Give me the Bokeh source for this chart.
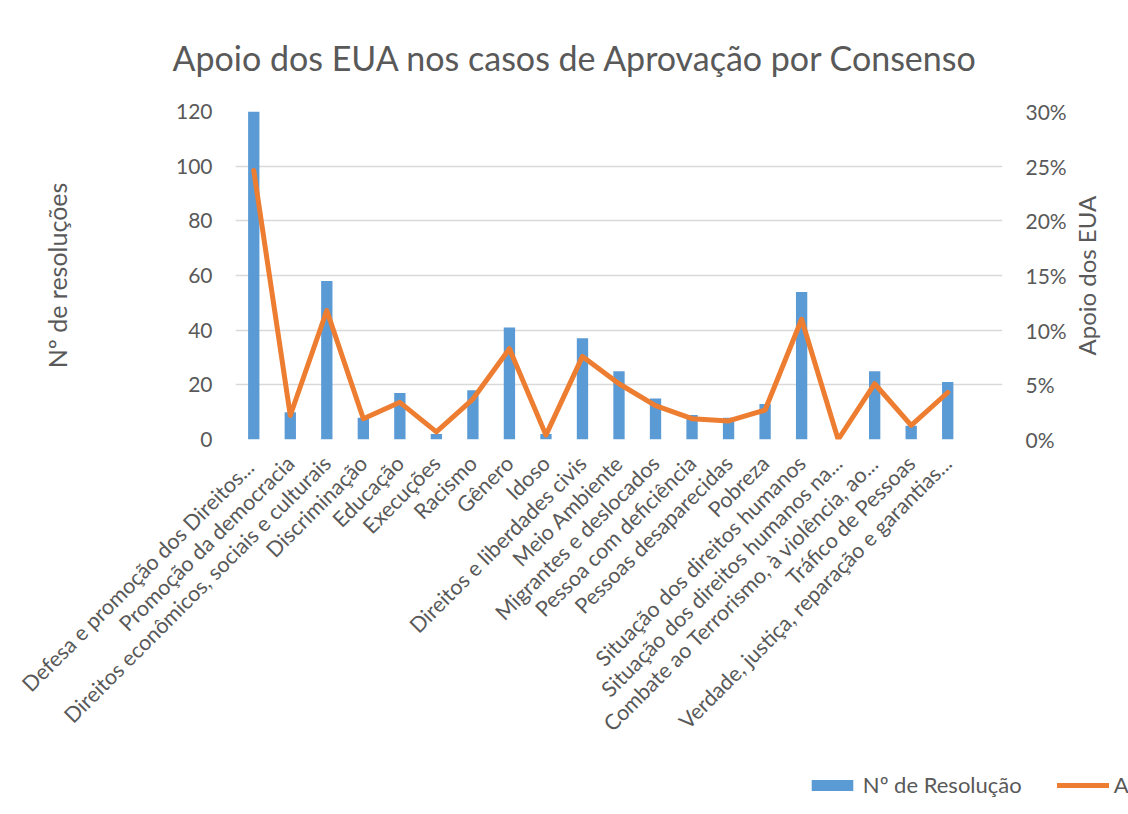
import math
from bokeh.plotting import figure
from bokeh.models import (FactorRange, Range1d, LinearAxis, FixedTicker,
                          NumeralTickFormatter, Legend, LegendItem)
from bokeh.embed import file_html
from bokeh.resources import INLINE

categories = [
    "Defesa  e promoção dos Direitos...",
    "Promoção da democracia",
    "Direitos econômicos, sociais e culturais",
    "Discriminação",
    "Educação",
    "Execuções",
    "Racismo",
    "Gênero",
    "Idoso",
    "Direitos e liberdades civis",
    "Meio Ambiente",
    "Migrantes e deslocados",
    "Pessoa com deficiência",
    "Pessoas desaparecidas",
    "Pobreza",
    "Situação dos direitos humanos",
    "Situação dos direitos humanos na...",
    "Combate ao Terrorismo, à violência, ao...",
    "Tráfico de Pessoas",
    "Verdade, justiça, reparação e garantias...",
]
resolucoes = [120, 10, 58, 8, 17, 2, 18, 41, 2, 37, 25, 15, 9, 8, 13, 54, 0, 25, 5, 21]
apoio = [0.246, 0.022, 0.118, 0.019, 0.034, 0.007, 0.037, 0.083, 0.004, 0.076,
         0.051, 0.031, 0.019, 0.017, 0.027, 0.110, 0.0, 0.051, 0.013, 0.043]
left_ticks = [0, 20, 40, 60, 80, 100, 120]
right_ticks = [0, 0.05, 0.10, 0.15, 0.20, 0.25, 0.30]

FONT = "Lato"
GRAY = "#595959"
BLUE = "#5b9bd5"
ORANGE = "#ed7d31"

p = figure(
    x_range=FactorRange(*(categories + [" "]), range_padding=0),
    y_range=Range1d(0, 120),
    frame_width=767, frame_height=328,
    min_border_left=235, min_border_right=110,
    min_border_top=110, min_border_bottom=362,
    output_backend="svg", toolbar_location=None,
    title="Apoio dos EUA nos casos de Aprovação por Consenso",
)
p.extra_y_ranges = {"pct": Range1d(0, 0.30)}

bars = p.vbar(x=categories, top=resolucoes, width=0.31, color=BLUE, line_color=None)
line = p.line(x=categories, y=apoio, y_range_name="pct", line_width=5,
              color=ORANGE, line_join="round", line_cap="round")

p.title.text_font = FONT
p.title.text_font_size = "34px"
p.title.text_font_style = "normal"
p.title.text_color = GRAY
p.title.align = "left"
p.title.offset = -63
p.title.standoff = 68

p.outline_line_color = None
p.background_fill_color = "white"
p.border_fill_color = "white"

p.xgrid.grid_line_color = None
p.ygrid.ticker = FixedTicker(ticks=left_ticks)
p.ygrid.grid_line_color = "#d9d9d9"
p.ygrid.grid_line_width = 1.3

# left axis
ya = p.yaxis[0]
ya.ticker = FixedTicker(ticks=left_ticks)
ya.axis_label = "Nº de resoluções"
ya.axis_label_standoff = 101

# right axis (title reads bottom-to-top like the reference)
ra = LinearAxis(y_range_name="pct", ticker=FixedTicker(ticks=right_ticks),
                formatter=NumeralTickFormatter(format="0%"),
                axis_label="\u2003\u2003\u2003\u2003\u2002Apoio dos EUA")
p.add_layout(ra, "right")
ra.axis_label_standoff = 17
ra.axis_label_orientation = math.pi / 2
ra.axis_label_align = "start"

xa = p.xaxis[0]
xa.major_label_orientation = math.pi / 4
xa.major_label_standoff = 20

for ax in (ya, ra, xa):
    ax.axis_line_color = None
    ax.major_tick_line_color = None
    ax.minor_tick_line_color = None
    ax.major_tick_in = 0
    ax.major_tick_out = 0
    ax.minor_tick_in = 0
    ax.minor_tick_out = 0
    ax.major_label_text_font = FONT
    ax.major_label_text_font_size = "21px"
    ax.major_label_text_color = GRAY
    ax.axis_label_text_font = FONT
    ax.axis_label_text_font_size = "25px"
    ax.axis_label_text_font_style = "normal"
    ax.axis_label_text_color = GRAY
ra.axis_label_text_font_size = "24px"
xa.major_label_text_font_size = "21.5px"
ya.major_label_standoff = 23
ra.major_label_standoff = 23

# legend: lives in the right side panel (outside the right axis) and is
# offset to the bottom centre of the chart, where the reference shows it
legend = Legend(
    items=[LegendItem(label="Nº de Resolução", renderers=[bars]),
           LegendItem(label="Apoio dos EUA", renderers=[line])],
    orientation="horizontal", location=(-760, -359),
    label_text_font=FONT, label_text_font_size="22px", label_text_color=GRAY,
    glyph_width=52, glyph_height=14, label_standoff=5, spacing=35,
    border_line_color=None, background_fill_alpha=0, padding=0, margin=0,
)
p.add_layout(legend, "right")

open("out.html", "w").write(file_html(p, INLINE))
